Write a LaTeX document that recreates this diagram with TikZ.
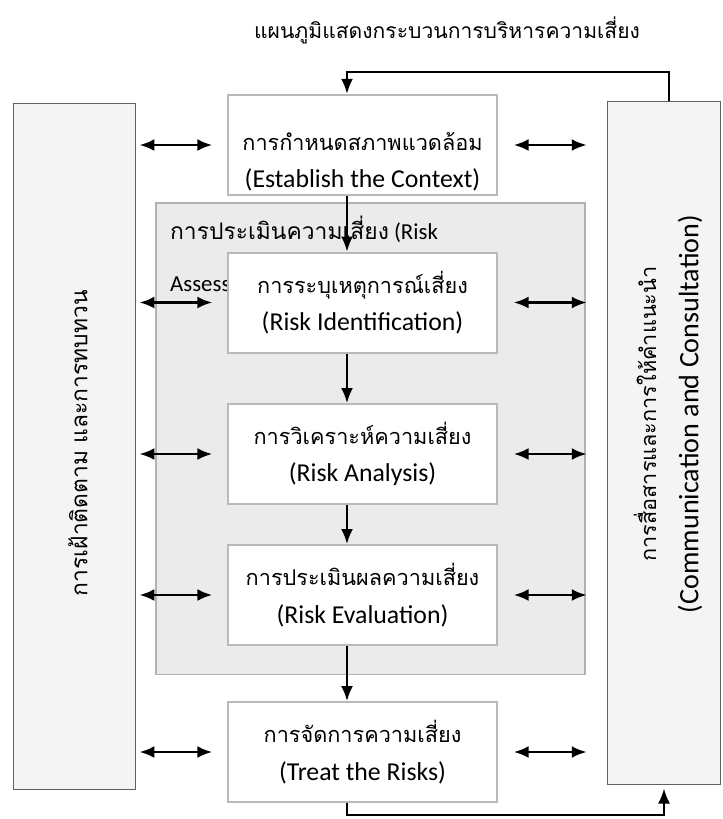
\documentclass[tikz,border=0pt]{standalone}
\usepackage{fontspec}
\setmainfont{Carlito}
\newfontfamily\thai[Script=Thai]{Loma}
\usetikzlibrary{positioning, arrows.meta}
\newcommand{\thailine}[1]{{\thai\fontsize{18.5}{32}\selectfont #1}}
\tikzset{>={Latex[length=4.5mm,width=3.6mm]},
  stepbox/.style={draw=gray!55, line width=0.6mm, fill=white, minimum width=80.5mm, minimum height=30mm, align=center, font=\fontsize{22}{32}\selectfont},
  sidebox/.style={draw=gray!75!black, line width=0.35mm, fill=gray!9},
  assessbox/.style={draw=gray!60, line width=0.5mm, fill=gray!16, minimum width=128.5mm, minimum height=141.5mm},
  flow/.style={->, line width=0.6mm},
  twoway/.style={<->, line width=0.8mm},
}

\begin{document}
\begin{tikzpicture}[x=0.3mm, y=-0.3mm]
        \useasboundingbox (0,0) rectangle (723,819);
        \node[font=\thai\fontsize{18}{22}\selectfont] (title) at (447,30) {แผนภูมิแสดงกระบวนการบริหารความเสี่ยง};

        % side boxes
        \node[sidebox, minimum width=36.6mm, minimum height=205.8mm] (monitor) at (74.5,446.5) {};
        \node[sidebox, minimum width=34mm, minimum height=205mm] (consult) at (664,443) {};
        \node[rotate=90, font=\thai\fontsize{19.5}{24}\selectfont] (monitortext) at (78,443) {การเฝ้าติดตาม และการทบทวน};
        \node[rotate=90, align=center, font=\fontsize{24}{36}\selectfont] (consulttext) at (668,414) {{\thai\fontsize{18.5}{36}\selectfont การสื่อสารและการให้คำแนะนำ}\\(Communication and Consultation)};

        % risk assessment area
        \node[assessbox] (assess) at (370.5,438.5) {};
        \node[anchor=north west, align=left, font=\fontsize{19.5}{44}\selectfont] (assesstext) at (166,212) {{\thai การประเมินความเสี่ยง} (Risk\\Assessment)};

        % process steps
        \node[stepbox] (context) at (362.5,145) {\rule{0pt}{44pt}\thailine{การกำหนดสภาพแวดล้อม}\\(Establish the Context)};
        \node[stepbox] (ident) at (362.5,302.5) {\thailine{การระบุเหตุการณ์เสี่ยง}\\(Risk Identification)};
        \node[stepbox] (analysis) at (362.5,454) {\thailine{การวิเคราะห์ความเสี่ยง}\\(Risk Analysis)};
        \node[stepbox] (evaluation) at (362.5,595) {\thailine{การประเมินผลความเสี่ยง}\\(Risk Evaluation)};
        \node[stepbox] (treat) at (362.5,752) {\thailine{การจัดการความเสี่ยง}\\(Treat the Risks)};

        \coordinate (spine) at (347,0);
        \coordinate (topturn) at (669,72);
        \coordinate (bottomturn) at (664,815);

        \draw[flow] (context.south -| spine) -- (ident.north -| spine);
        \draw[flow] (ident.south -| spine) -- (analysis.north -| spine);
        \draw[flow] (analysis.south -| spine) -- (evaluation.north -| spine);
        \draw[flow] (evaluation.south -| spine) -- (treat.north -| spine);
        \draw[flow] (consult.north -| topturn) -- (topturn) -| (context.north -| spine);
        \draw[flow, shorten >=1mm] (treat.south -| spine) |- (bottomturn) -- (consult.south -| bottomturn);

        \foreach \s in {context, ident, analysis, evaluation, treat} {
            \draw[twoway, shorten <=1mm, shorten >=4.5mm] (\s.west -| monitor.east) -- (\s.west);
            \draw[twoway, shorten <=4.8mm, shorten >=6mm] (\s.east) -- (\s.east -| consult.west);
        }
\end{tikzpicture}
\end{document}
